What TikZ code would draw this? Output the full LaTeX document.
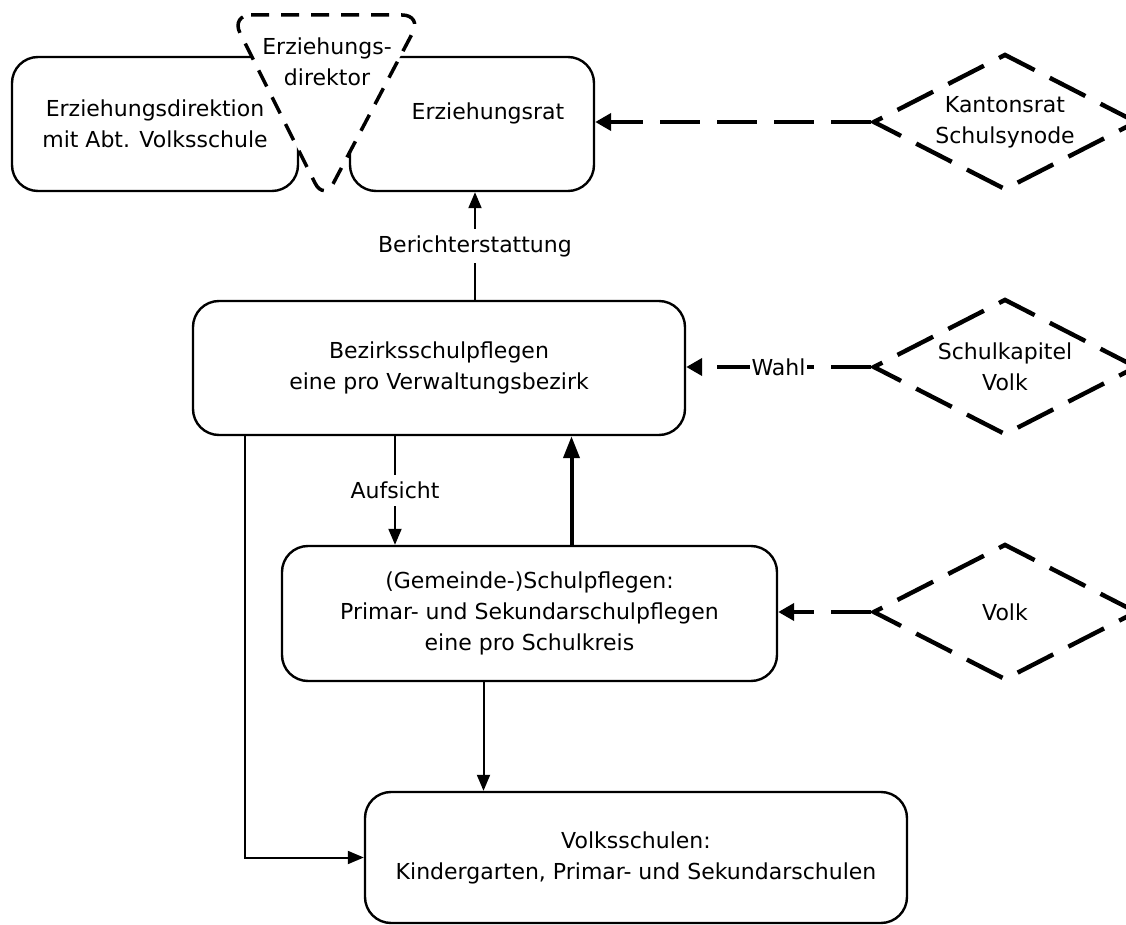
\documentclass[tikz,border=0pt]{standalone}
\usepackage{fontspec}
\setmainfont{DejaVu Sans}
\usepackage{tikz}
\usetikzlibrary{positioning}
\usetikzlibrary{shapes.geometric}
\usetikzlibrary{arrows.meta}
\pgfdeclarelayer{background}
\pgfdeclarelayer{foreground}
\pgfsetlayers{background,main,foreground}

\begin{document}
\begin{tikzpicture}[x=0.5pt, y=-0.5pt,
							font=\fontsize{11}{15.5}\selectfont,
							roundbox/.style={rectangle, rounded corners=13pt, draw=black, line width=1.2pt, fill=white, align=center},
							wahlnode/.style={diamond, aspect=1.94, draw=black, line width=2.2pt, dash pattern=on 20pt off 8.5pt, inner sep=0pt, minimum width=132pt, minimum height=68pt, align=center},
							thinarrow/.style={line width=1pt, -{Triangle[length=8pt,width=6.5pt]}},
							thickarrow/.style={line width=2pt, -{Triangle[length=11pt,width=8pt]}},
							dasharrow/.style={line width=2.2pt, dash pattern=on 20pt off 8.5pt, -{Triangle[length=8pt,width=8.5pt]}},
							]
							\useasboundingbox (0,0) rectangle (1126,925);
							%Nodes
							\node[roundbox, minimum width=143pt, minimum height=67pt]	(direktion)	at (155,124)	{Erziehungsdirektion\\mit Abt. Volksschule};
							\node[roundbox, minimum width=122pt, minimum height=67pt]	(rat)		at (472,124)	{};
							\node					(ratlabel)	at (488,113)	{Erziehungsrat};
							\filldraw[fill=white, line width=1.75pt, dash pattern=on 9pt off 6pt, rounded corners=10pt] (231,15) -- (422,15) -- (324,201) -- cycle;
							\node[align=center]			(direktor)	at (327,62)	{Erziehungs-\\direktor};
							\node[wahlnode]				(kanton)	at (1005,122)	{Kantonsrat\\Schulsynode};
							\node[roundbox, minimum width=246pt, minimum height=67pt]	(bezirk)	at (439,368)	{Bezirksschulpflegen\\eine pro Verwaltungsbezirk};
							\node[wahlnode]				(kapitel)	at (1005,367)	{Schulkapitel\\Volk};
							\node[roundbox, minimum width=247.5pt, minimum height=67.5pt]	(gemeinde)	at (529.5,613.5)	{(Gemeinde-)Schulpflegen:\\Primar- und Sekundarschulpflegen\\eine pro Schulkreis};
							\node[wahlnode]				(volk)		at (1005,612)	{Volk};
							\node[roundbox, minimum width=271pt, minimum height=65.5pt]	(volksschule)	at (636,857.5)	{Volksschulen:\\Kindergarten, Primar- und Sekundarschulen};

							%Connectors
							\draw[dasharrow] (kanton.west) -- (kanton.west -| rat.east);
							\draw[dasharrow] (kapitel.west) -- node[fill=white, inner sep=1pt] {Wahl} (kapitel.west -| bezirk.east);
							\draw[dasharrow] (volk.west) -- (volk.west -| gemeinde.east);
							\draw[thinarrow] ([xshift=18pt]bezirk.north) -- node[fill=white] {Berichterstattung} ([xshift=18pt]bezirk.north |- rat.south);
							\draw[thinarrow] ([xshift=-22pt]bezirk.south) -- node[fill=white] {Aufsicht} ([xshift=-22pt]bezirk.south |- gemeinde.north);
							\draw[thickarrow] ([xshift=21pt]gemeinde.north) -- ([xshift=21pt]gemeinde.north |- bezirk.south);
							\draw[thinarrow] ([xshift=-23pt]gemeinde.south) -- ([xshift=-23pt]gemeinde.south |- volksschule.north);
							\draw[thinarrow] ([xshift=26.5pt]bezirk.south west) |- (volksschule.west);
						\end{tikzpicture}
\end{document}
